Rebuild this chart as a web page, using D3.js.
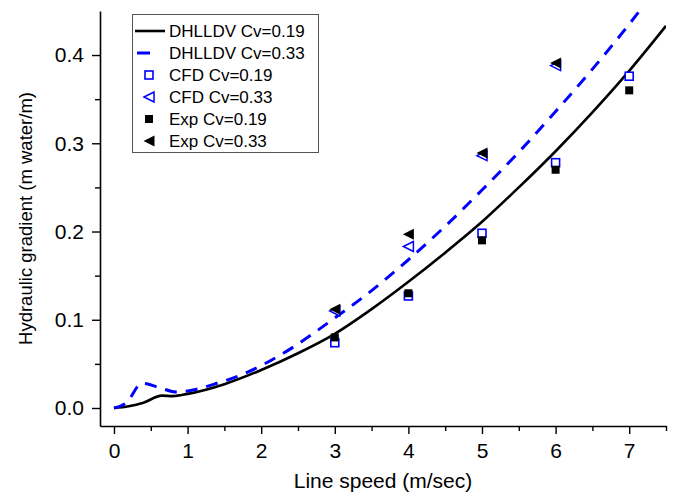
<!DOCTYPE html>
<html>
<head>
<meta charset="utf-8">
<script src="https://cdn.jsdelivr.net/npm/d3@7"></script>
<style>
  html, body { margin: 0; padding: 0; background: #fff; }
  svg { display: block; font-family: "Liberation Sans", Arial, sans-serif; }
</style>
</head>
<body>
<svg id="chart" width="684" height="498"></svg>
<script>
// ---- data ----
const xTicks = [0, 1, 2, 3, 4, 5, 6, 7];
const yTicks = [0.0, 0.1, 0.2, 0.3, 0.4];

const dhlldv019Speed = [0, 0.2, 0.4, 0.65, 0.8, 1.0, 1.5, 2.0, 2.5, 3.0, 3.5, 4.0, 4.5, 5.0, 5.5, 6.0, 6.5, 7.0, 7.5];
const dhlldv019Grad  = [0, 0.002, 0.006, 0.014, 0.0135, 0.016, 0.027, 0.043, 0.062, 0.084, 0.112, 0.143, 0.176, 0.211, 0.250, 0.291, 0.335, 0.382, 0.433];

const dhlldv033Speed = [0, 0.17, 0.38, 0.62, 0.85, 1.05, 1.4, 1.8, 2.3, 3.0, 3.5, 4.0, 4.5, 5.0, 5.5, 6.0, 6.5, 7.0, 7.5];
const dhlldv033Grad  = [0, 0.006, 0.028, 0.023, 0.018, 0.020, 0.028, 0.040, 0.062, 0.102, 0.133, 0.168, 0.206, 0.247, 0.290, 0.336, 0.384, 0.435, 0.49];

const cfd019Speed = [3, 4, 5, 6, 7];
const cfd019Grad  = [0.074, 0.127, 0.198, 0.278, 0.376];
const cfd033Speed = [3, 4, 5, 6];
const cfd033Grad  = [0.110, 0.183, 0.286, 0.388];
const exp019Speed = [3, 4, 5, 6, 7];
const exp019Grad  = [0.080, 0.130, 0.190, 0.270, 0.360];
const exp033Speed = [3, 4, 5, 6];
const exp033Grad  = [0.112, 0.197, 0.289, 0.391];

const legendLabels = ["DHLLDV Cv=0.19", "DHLLDV Cv=0.33", "CFD Cv=0.19", "CFD Cv=0.33", "Exp Cv=0.19", "Exp Cv=0.33"];

// ---- layout ----
const svg = d3.select("#chart");
const mLeft = 100, mRight = 666, mTop = 11, mBottom = 426;
const x = d3.scaleLinear().domain([-0.19, 7.5]).range([mLeft, mRight]);
const y = d3.scaleLinear().domain([-0.0204, 0.4499]).range([mBottom, mTop]);
const BLUE = "#0000ff";

svg.append("defs").append("clipPath").attr("id", "clip")
  .append("rect").attr("x", mLeft).attr("y", mTop).attr("width", mRight - mLeft).attr("height", mBottom - mTop);

// axes
const xMinor = d3.range(0.5, 7.5, 1);
const yMinor = d3.range(0.05, 0.45, 0.1);

svg.append("g").attr("transform", `translate(0,${mBottom})`)
  .call(d3.axisBottom(x).tickValues(xTicks).tickFormat(d3.format("d")).tickSize(8).tickPadding(9).tickSizeOuter(0));
svg.append("g").attr("transform", `translate(0,${mBottom})`)
  .call(d3.axisBottom(x).tickValues(xMinor.concat([7.5])).tickFormat("").tickSize(5).tickSizeOuter(0))
  .select(".domain").remove();

svg.append("g").attr("transform", `translate(${mLeft},0)`)
  .call(d3.axisLeft(y).tickValues(yTicks).tickFormat(d3.format(".1f")).tickSize(8).tickPadding(8).tickSizeOuter(0));
svg.append("g").attr("transform", `translate(${mLeft},0)`)
  .call(d3.axisLeft(y).tickValues(yMinor).tickFormat("").tickSize(5).tickSizeOuter(0))
  .select(".domain").remove();

svg.selectAll(".domain").attr("stroke", "#000").attr("stroke-width", 1.6);
svg.selectAll(".tick line").attr("stroke", "#000").attr("stroke-width", 1.4);
svg.selectAll(".tick text").attr("font-size", 21).attr("fill", "#000")
  .attr("font-family", "'Liberation Sans', Arial, sans-serif");

// axis titles
svg.append("text").attr("x", (mLeft + mRight) / 2).attr("y", 488)
  .attr("text-anchor", "middle").attr("font-size", 21).text("Line speed  (m/sec)");
svg.append("text").attr("transform", `translate(32,${(mTop + mBottom) / 2}) rotate(-90)`)
  .attr("text-anchor", "middle").attr("font-size", 18.5).text("Hydraulic gradient  (m water/m)");

// curves
const plot = svg.append("g").attr("clip-path", "url(#clip)");
const line = d3.line().x(d => x(d[0])).y(d => y(d[1])).curve(d3.curveMonotoneX);
plot.append("path").datum(d3.zip(dhlldv019Speed, dhlldv019Grad))
  .attr("d", line).attr("fill", "none").attr("stroke", "#000").attr("stroke-width", 2.6);
plot.append("path").datum(d3.zip(dhlldv033Speed, dhlldv033Grad))
  .attr("d", line).attr("fill", "none").attr("stroke", BLUE).attr("stroke-width", 3)
  .attr("stroke-dasharray", "12,9");

// markers
const sq = 8, tri = 11;
function triPath(cx, cy, s) {
  const h = s / 2;
  return `M${cx - h},${cy} L${cx + h},${cy - h} L${cx + h},${cy + h} Z`;
}
function drawCFD019(g, pts) {
  g.selectAll(null).data(pts).enter().append("rect")
    .attr("x", d => d[0] - sq / 2).attr("y", d => d[1] - sq / 2)
    .attr("width", sq).attr("height", sq)
    .attr("fill", "#fff").attr("stroke", BLUE).attr("stroke-width", 1.6);
}
function drawCFD033(g, pts) {
  g.selectAll(null).data(pts).enter().append("path")
    .attr("d", d => triPath(d[0], d[1], tri - 1))
    .attr("fill", "#fff").attr("stroke", BLUE).attr("stroke-width", 1.5);
}
function drawExp019(g, pts) {
  g.selectAll(null).data(pts).enter().append("rect")
    .attr("x", d => d[0] - sq / 2).attr("y", d => d[1] - sq / 2)
    .attr("width", sq).attr("height", sq).attr("fill", "#000");
}
function drawExp033(g, pts) {
  g.selectAll(null).data(pts).enter().append("path")
    .attr("d", d => triPath(d[0], d[1], tri)).attr("fill", "#000");
}
const pts = (xs, ys) => d3.zip(xs, ys).map(d => [x(d[0]), y(d[1])]);
const mk = svg.append("g");
drawCFD019(mk, pts(cfd019Speed, cfd019Grad));
drawCFD033(mk, pts(cfd033Speed, cfd033Grad));
drawExp019(mk, pts(exp019Speed, exp019Grad));
drawExp033(mk, pts(exp033Speed, exp033Grad));

// legend
const lg = svg.append("g");
lg.append("rect").attr("x", 132.5).attr("y", 14.5).attr("width", 186).attr("height", 138)
  .attr("fill", "#fff").attr("stroke", "#555").attr("stroke-width", 1);
const rowY = i => 31 + i * 22;
lg.append("line").attr("x1", 135).attr("x2", 165).attr("y1", rowY(0)).attr("y2", rowY(0))
  .attr("stroke", "#000").attr("stroke-width", 2.6);
lg.append("line").attr("x1", 137).attr("x2", 150).attr("y1", rowY(1)).attr("y2", rowY(1))
  .attr("stroke", BLUE).attr("stroke-width", 3);
drawCFD019(lg, [[149, rowY(2)]]);
drawCFD033(lg, [[149, rowY(3)]]);
drawExp019(lg, [[149, rowY(4)]]);
drawExp033(lg, [[149, rowY(5)]]);
lg.selectAll(null).data(legendLabels).enter().append("text")
  .attr("x", 169).attr("y", (d, i) => rowY(i) + 6)
  .attr("font-size", 17).attr("fill", "#000").text(d => d);
</script>
</body>
</html>
